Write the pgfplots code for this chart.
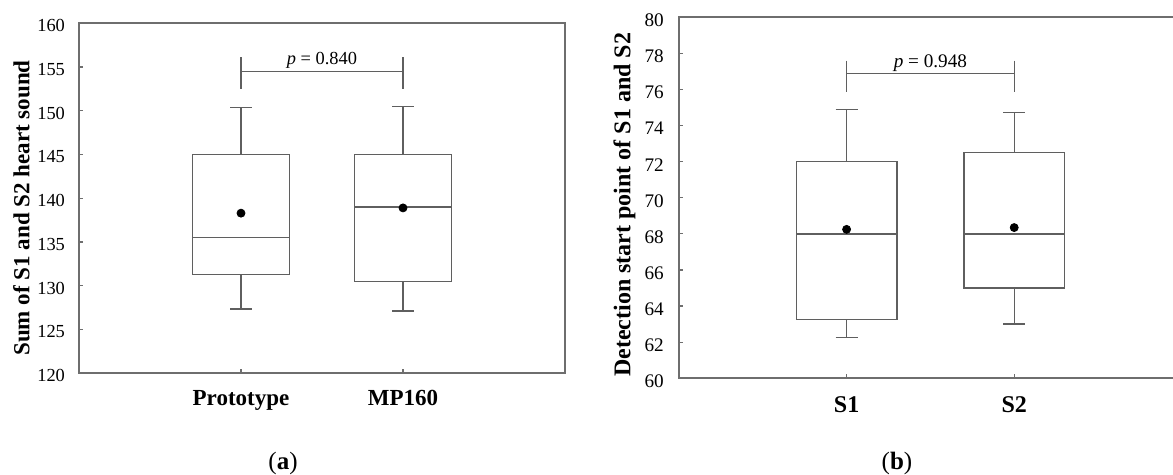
\documentclass[border=0pt]{standalone}
\usepackage{fontspec}
\setmainfont{Liberation Serif}
\usepackage{pgfplots}
\pgfplotsset{compat=1.18}
\definecolor{boxgray}{RGB}{95,95,95}
\definecolor{axgray}{RGB}{110,110,110}
\pgfplotsset{
  myaxis/.style={
    scale only axis,
    anchor=south west,
    xmin=0, xmax=3,
    xtick={1,2},
    tick align=inside,
    xtick pos=bottom, ytick pos=left,
    major tick length=2pt,
    axis line style={draw=axgray, line width=1pt},
    every tick/.style={draw=axgray, line width=0.6pt},
    /pgf/number format/assume math mode=true,
    unbounded coords=jump,
    clip=false,
  },
  bx/.style={draw=boxgray, line width=0.7pt, mark=none, solid, line join=miter},
}
\begin{document}
\begin{tikzpicture}
\path[use as bounding box, clip] (0,0) rectangle (586.5pt,237.5pt);
% ---------- panel (a)
\begin{axis}[myaxis,
  at={(39.5pt,50.85pt)}, width=243pt, height=175pt,
  ymin=120, ymax=160, ytick={120,125,...,160},
  xticklabels={Prototype, MP160},
  xticklabel style={font=\fontsize{11.5}{13}\selectfont\bfseries, yshift=-4.9pt},
  yticklabel style={font=\fontsize{9.2}{11}\selectfont, xshift=-3.5pt, yshift=-1.2pt},
  ylabel={Sum of S1 and S2 heart sound},
  ylabel style={font=\fontsize{11.5}{13}\selectfont\bfseries, at={(axis description cs:-0.1023,0.4723)}, anchor=base},
]
% Prototype: 127.35, 131.3, 135.5, 145.0, 150.4
\addplot[bx, fill=white] coordinates {(0.7,131.3) (1.3,131.3) (1.3,145.0) (0.7,145.0)} -- cycle;
\addplot[bx] coordinates {(0.7,135.5) (1.3,135.5)};
\addplot[bx] coordinates {(1,145.0) (1,150.4) (nan,nan) (0.935,150.4) (1.065,150.4)};
\addplot[bx] coordinates {(1,131.3) (1,127.35) (nan,nan) (0.935,127.35) (1.065,127.35)};
% MP160: 127.1, 130.5, 139.0, 145.0, 150.5
\addplot[bx, fill=white] coordinates {(1.7,130.5) (2.3,130.5) (2.3,145.0) (1.7,145.0)} -- cycle;
\addplot[bx] coordinates {(1.7,139.0) (2.3,139.0)};
\addplot[bx] coordinates {(2,145.0) (2,150.5) (nan,nan) (1.935,150.5) (2.065,150.5)};
\addplot[bx] coordinates {(2,130.5) (2,127.1) (nan,nan) (1.935,127.1) (2.065,127.1)};
% means
\addplot[only marks, mark=*, mark size=2pt, black] coordinates {(1,138.3) (2,138.9)};
% significance bracket
\addplot[bx] coordinates {(1,156.1) (1,152.5)};
\addplot[bx] coordinates {(2,156.1) (2,152.5)};
\addplot[bx] coordinates {(1,154.5) (2,154.5)};
\node[anchor=base, font=\fontsize{9.2}{11}\selectfont, inner sep=0pt] at (axis cs:1.5,155.25) {\textit{p} = 0.840};
\end{axis}
% ---------- panel (b)
\begin{axis}[myaxis,
  at={(339.5pt,48.35pt)}, width=251.4pt, height=180.5pt,
  ymin=60, ymax=80, ytick={60,62,...,80},
  xticklabels={S1, S2},
  xticklabel style={font=\fontsize{12}{14}\selectfont\bfseries, yshift=-5.5pt},
  yticklabel style={font=\fontsize{9.6}{11}\selectfont, xshift=-4.1pt, yshift=-1.5pt},
  ylabel={Detection start point of S1 and S2},
  ylabel style={font=\fontsize{12}{14}\selectfont\bfseries, at={(axis description cs:-0.0965,0.481)}, anchor=base},
]
% S1: 62.27, 63.27, 68.0, 72.0, 74.88
\addplot[bx, fill=white] coordinates {(0.7,63.27) (1.3,63.27) (1.3,72.0) (0.7,72.0)} -- cycle;
\addplot[bx] coordinates {(0.7,68.0) (1.3,68.0)};
\addplot[bx] coordinates {(1,72.0) (1,74.88) (nan,nan) (0.935,74.88) (1.065,74.88)};
\addplot[bx] coordinates {(1,63.27) (1,62.27) (nan,nan) (0.935,62.27) (1.065,62.27)};
% S2: 63.0, 65.0, 68.0, 72.5, 74.74
\addplot[bx, fill=white] coordinates {(1.7,65.0) (2.3,65.0) (2.3,72.5) (1.7,72.5)} -- cycle;
\addplot[bx] coordinates {(1.7,68.0) (2.3,68.0)};
\addplot[bx] coordinates {(2,72.5) (2,74.74) (nan,nan) (1.935,74.74) (2.065,74.74)};
\addplot[bx] coordinates {(2,65.0) (2,63.0) (nan,nan) (1.935,63.0) (2.065,63.0)};
% means
\addplot[only marks, mark=*, mark size=2pt, black] coordinates {(1,68.25) (2,68.35)};
% significance bracket
\addplot[bx] coordinates {(1,77.6) (1,75.85)};
\addplot[bx] coordinates {(2,77.6) (2,75.85)};
\addplot[bx] coordinates {(1,76.88) (2,76.88)};
\node[anchor=base, font=\fontsize{9.6}{11}\selectfont, inner sep=0pt] at (axis cs:1.5,77.23) {\textit{p} = 0.948};
\end{axis}
\node[anchor=base, font=\fontsize{12.5}{14}\selectfont] at (141.5pt,2.5pt) {(\textbf{a})};
\node[anchor=base, font=\fontsize{12.5}{14}\selectfont] at (448.5pt,2.5pt) {(\textbf{b})};
\end{tikzpicture}
\end{document}
